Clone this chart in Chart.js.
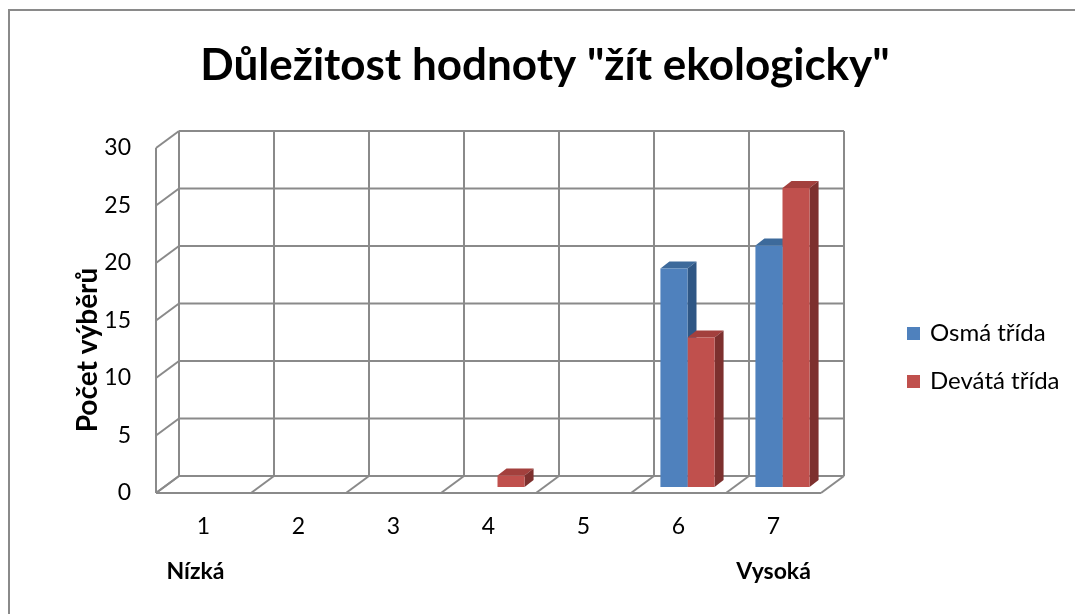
<!DOCTYPE html>
<html lang="cs">
<head>
<meta charset="utf-8">
<title>Důležitost hodnoty "žít ekologicky"</title>
<script src="https://cdn.jsdelivr.net/npm/chart.js@4.4.1/dist/chart.umd.min.js"></script>
<style>
  html, body { margin: 0; padding: 0; background: #fff; }
  canvas { display: block; }
</style>
</head>
<body>
<canvas id="chartEko" width="1075" height="614"></canvas>
<script>
// data
var categories = ["1", "2", "3", "4", "5", "6", "7"];
var osmaTrida = [0, 0, 0, 0, 0, 19, 21];
var devataTrida = [0, 0, 0, 1, 0, 13, 26];
var seriesNames = ["Osmá třída", "Devátá třída"];
var yMin = 0;
var yMax = 30;
var yStep = 5;
var chartTitle = 'Důležitost hodnoty "žít ekologicky"';
var yTitle = "Počet výběrů";
var lowLabel = "Nízká";
var highLabel = "Vysoká";

(function () {
  "use strict";

  var colors = {
    blue: "#4f81bd",
    blueTop: "#3d6a9b",
    blueSide: "#2f5785",
    red: "#c0504d",
    redTop: "#a3403d",
    redSide: "#7d302e",
    grid: "#8a8a8a",
    text: "#000",
  };

  // offsets of the front / back planes and bar depth, relative to the bar plane
  var FRONT = { x: -9, y: 6 };
  var BACK = { x: 14, y: -11 };
  var DEPTH = { x: 9, y: -7 };

  function line(ctx, x1, y1, x2, y2) {
    ctx.beginPath();
    ctx.moveTo(x1, y1);
    ctx.lineTo(x2, y2);
    ctx.stroke();
  }

  function poly(ctx, pts, fill) {
    ctx.beginPath();
    ctx.moveTo(pts[0][0], pts[0][1]);
    for (var i = 1; i < pts.length; i++) ctx.lineTo(pts[i][0], pts[i][1]);
    ctx.closePath();
    ctx.fillStyle = fill;
    ctx.fill();
  }

  var box3d = {
    id: "box3d",
    beforeDraw: function (chart) {
      var ctx = chart.ctx;
      var area = chart.chartArea;
      var ys = chart.scales.y;
      var n = categories.length;
      var L = area.left, R = area.right;
      var y0 = ys.getPixelForValue(yMin);
      var yTop = ys.getPixelForValue(yMax);

      ctx.save();
      ctx.fillStyle = "#fff";
      ctx.fillRect(0, 0, chart.width, chart.height);

      // outer frame
      ctx.strokeStyle = colors.grid;
      ctx.lineWidth = 2;
      ctx.beginPath();
      ctx.moveTo(9, chart.height);
      ctx.lineTo(9, 10);
      ctx.lineTo(chart.width, 10);
      ctx.stroke();

      // back wall: horizontal gridlines + left wall diagonals
      for (var v = yMin; v <= yMax; v += yStep) {
        var py = ys.getPixelForValue(v);
        line(ctx, L + BACK.x, py + BACK.y, R + BACK.x, py + BACK.y);
        line(ctx, L + FRONT.x, py + FRONT.y, L + BACK.x, py + BACK.y);
      }
      // left wall front edge
      line(ctx, L + FRONT.x, yTop + FRONT.y, L + FRONT.x, y0 + FRONT.y);

      // back wall verticals + floor diagonals at category edges
      for (var k = 0; k <= n; k++) {
        var px = L + (k * (R - L)) / n;
        line(ctx, px + BACK.x, yTop + BACK.y, px + BACK.x, y0 + BACK.y);
        line(ctx, px + FRONT.x, y0 + FRONT.y, px + BACK.x, y0 + BACK.y);
      }
      // floor front edge
      line(ctx, L + FRONT.x, y0 + FRONT.y, R + FRONT.x, y0 + FRONT.y);
      ctx.restore();
    },

    beforeDatasetsDraw: function (chart) {
      var ctx = chart.ctx;
      var shades = [
        [colors.blueTop, colors.blueSide],
        [colors.redTop, colors.redSide],
      ];
      ctx.save();
      chart.data.datasets.forEach(function (ds, di) {
        var meta = chart.getDatasetMeta(di);
        meta.data.forEach(function (bar, i) {
          if (!ds.data[i]) return;
          var p = bar.getProps(["x", "y", "base", "width"], true);
          var x0 = p.x - p.width / 2;
          var x1 = p.x + p.width / 2;
          poly(ctx, [
            [x0, p.y], [x1, p.y],
            [x1 + DEPTH.x, p.y + DEPTH.y], [x0 + DEPTH.x, p.y + DEPTH.y],
          ], shades[di][0]);
          poly(ctx, [
            [x1, p.y], [x1 + DEPTH.x, p.y + DEPTH.y],
            [x1 + DEPTH.x, p.base + DEPTH.y], [x1, p.base],
          ], shades[di][1]);
        });
      });
      ctx.restore();
    },

    afterDraw: function (chart) {
      var ctx = chart.ctx;
      var xs = chart.scales.x;
      ctx.save();
      ctx.fillStyle = colors.text;
      ctx.textBaseline = "middle";

      // title
      ctx.textAlign = "center";
      ctx.font = "bold 44px Lato";
      ctx.fillText(chartTitle, 545, 66);

      // low / high labels under the x axis
      ctx.font = "bold 23px Lato";
      ctx.fillText(lowLabel, xs.getPixelForValue(0) + FRONT.x - 8, 572);
      ctx.fillText(highLabel, xs.getPixelForValue(categories.length - 1) + FRONT.x, 572);

      // y axis title
      ctx.save();
      ctx.translate(88, 350);
      ctx.rotate(-Math.PI / 2);
      ctx.font = "bold 28px Lato";
      ctx.fillText(yTitle, 0, 0);
      ctx.restore();

      // legend
      ctx.textAlign = "left";
      ctx.font = "24px Lato";
      chart.data.datasets.forEach(function (ds, i) {
        var cy = 333 + i * 48;
        ctx.fillStyle = ds.backgroundColor;
        ctx.fillRect(907, cy - 6, 13, 13);
        ctx.fillStyle = colors.text;
        ctx.fillText(ds.label, 930, cy);
      });
      ctx.restore();
    },
  };

  function initChart() {
    var el = document.getElementById("chartEko");
    if (!el || typeof Chart === "undefined") return;

    new Chart(el, {
      type: "bar",
      data: {
        labels: categories,
        datasets: [
          {
            label: seriesNames[0],
            data: osmaTrida,
            backgroundColor: colors.blue,
            borderWidth: 0,
          },
          {
            label: seriesNames[1],
            data: devataTrida,
            backgroundColor: colors.red,
            borderWidth: 0,
          },
        ],
      },
      plugins: [box3d],
      options: {
        responsive: false,
        animation: false,
        events: [],
        devicePixelRatio: 1,
        layout: { padding: { left: 75, top: 142, right: 245, bottom: 47 } },
        datasets: {
          bar: { categoryPercentage: 0.57, barPercentage: 1.0 },
        },
        plugins: {
          legend: { display: false },
          title: { display: false },
          tooltip: { enabled: false },
        },
        scales: {
          x: {
            grid: { display: false, drawTicks: false },
            border: { display: false },
            ticks: {
              color: colors.text,
              font: { family: "Lato", size: 23 },
              labelOffset: FRONT.x,
              padding: 26,
              maxRotation: 0,
            },
            afterFit: function (scale) {
              scale.height = 80;
            },
          },
          y: {
            min: yMin,
            max: yMax,
            grid: { display: false, drawTicks: false },
            border: { display: false },
            ticks: {
              stepSize: yStep,
              color: colors.text,
              font: { family: "Lato", size: 23 },
              labelOffset: FRONT.y,
              padding: 34,
            },
            afterFit: function (scale) {
              scale.width = 90;
            },
          },
        },
      },
    });
  }

  initChart();
})();
</script>
</body>
</html>
